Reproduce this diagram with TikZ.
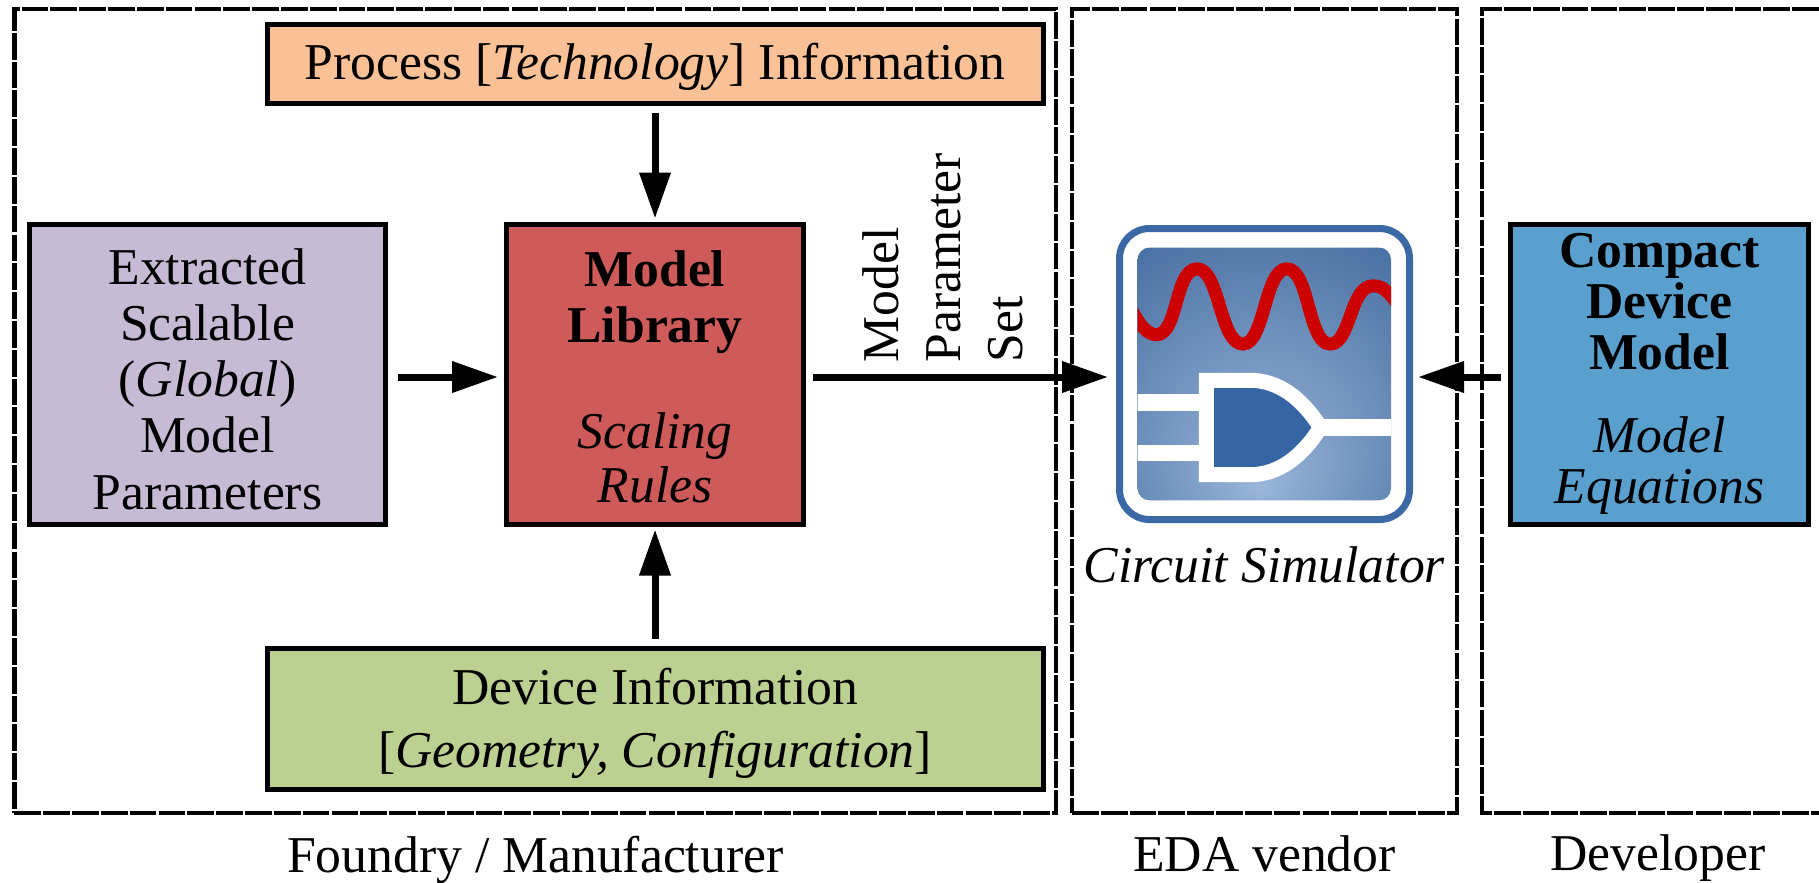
\documentclass[tikz,border=0pt]{standalone}
\usepackage{fontspec}
\setmainfont{Liberation Serif}
\usepackage{xcolor}
\usepackage{tikz}
\usetikzlibrary{arrows.meta,positioning}
\definecolor{procorange}{HTML}{FBC196}
\definecolor{extpurple}{HTML}{C6BAD5}
\definecolor{libred}{HTML}{CF5A5A}
\definecolor{devgreen}{HTML}{BCD092}
\definecolor{cmblue}{HTML}{5AA0CF}
\definecolor{iconblue}{HTML}{3A69A5}
\definecolor{gateblue}{HTML}{3565A5}
\definecolor{iconlight}{HTML}{9AB6DA}
\definecolor{icondark}{HTML}{3F689C}
\definecolor{wavered}{HTML}{CC0000}
\pgfdeclareradialshading{iconglow}{\pgfpoint{-1bp}{-22bp}}{color(0bp)=(iconlight); color(47bp)=(icondark); color(70bp)=(icondark)}

\begin{document}
\begin{tikzpicture}[font=\fontsize{14.7}{16}\selectfont]
        \tikzstyle{block} = [draw, line width=0.05cm, align=center, inner sep=0pt, text=black]
        \tikzstyle{framebox} = [draw, line width=0.045cm, dash pattern=on 7.6pt off 0.6pt]
        \tikzstyle{flow} = [-{Triangle[length=0.46cm,width=0.3cm]}, line width=0.07cm, shorten >=0.06cm, shorten <=0.07cm]
        \useasboundingbox (0,0) rectangle (18.19,8.82);

        \node[framebox, minimum width=10.415cm, minimum height=8.04cm] (foundry) at (5.3525,4.71) {};
        \node[framebox, minimum width=3.85cm, minimum height=8.04cm] (eda) at (12.645,4.71) {};
        \draw[framebox] (18.19,8.73) -- (14.82,8.73) -- (14.82,0.69) -- (18.19,0.69);
        \node[below = 0.08cm of foundry] (foundrycap) {Foundry / Manufacturer};
        \node[below = 0.08cm of eda] (edacap) {EDA vendor};
        \node (devcap) at (16.58,0.24) {Developer};

        \node[block, fill=libred, minimum width=2.97cm, minimum height=3cm] (library) at (6.55,5.08) {\rule{0pt}{12pt}\textbf{Model}\\\textbf{Library}\\[14pt]\textit{Scaling}\\[-0.5pt]\textit{Rules}};
        \node[block, fill=procorange, minimum width=7.76cm, minimum height=0.79cm, above = 1.16cm of library] (process) {\rule{0pt}{12pt}Process [\textit{Technology}] Information};
        \node[block, fill=extpurple, minimum width=3.56cm, minimum height=3cm, left = 1.16cm of library] (extracted) {\rule{0pt}{13pt}Extracted\\Scalable\\(\textit{Global})\\Model\\Parameters};
        \node[block, fill=devgreen, minimum width=7.76cm, minimum height=1.41cm, below = 1.19cm of library] (device) {\rule{0pt}{13pt}Device Information\\[2pt][\textit{Geometry, Configuration}]};
        \node[block, fill=cmblue, minimum width=2.98cm, minimum height=3cm, right = 7.02cm of library] (compact) {\textbf{Compact}\\[-1.5pt]\textbf{Device}\\[-1.5pt]\textbf{Model}\\[7.5pt]\textit{Model}\\[-1.5pt]\textit{Equations}};
        \node[draw=iconblue, fill=white, line width=0.07cm, rounded corners=0.3cm, minimum width=2.9cm, minimum height=2.91cm] (sim) at (12.645,5.08) {};
        \node[below = 0.11cm of sim] (simcap) {\textit{Circuit Simulator}};
        \node[rotate=90, anchor=west, align=left, inner sep=0pt, font=\fontsize{14.7}{17.7}\selectfont] (paramset) at ([xshift=1.37cm,yshift=0.11cm]library.east) {Model\\Parameter\\Set};

        \begin{scope}[shift={(10.8,6.82)},x=0.003333cm,y=-0.003333cm]
        \clip[rounded corners=0.12cm] (173,143) rectangle (935,903);
        \shade[shading=iconglow] (173,143) rectangle (935,903);
        \draw[wavered, line width=0.13cm] (150,320) .. controls (175,370) and (200,405) .. (230,405) .. controls (295,405) and (285,207) .. (352,207) .. controls (420,207) and (420,433) .. (490,433) .. controls (555,433) and (555,207) .. (622,207) .. controls (690,207) and (685,433) .. (752,433) .. controls (815,433) and (810,258) .. (882,258) .. controls (915,258) and (935,285) .. (960,320);
        \draw[white, line width=0.167cm] (150,608) -- (380,608);
        \draw[white, line width=0.167cm] (150,761) -- (380,761);
        \draw[white, line width=0.167cm] (715,684) -- (960,684);
        \draw[white, fill=gateblue, line width=0.15cm] (380,542) -- (510,542) .. controls (600,542) and (670,600) .. (723,684) .. controls (670,768) and (600,826) .. (510,826) -- (380,826) -- cycle;
        \end{scope}

        \draw [flow, shorten >=0.03cm] (process) -- (library);
        \draw [flow, shorten <=0.1cm] ([yshift=-0.03cm]extracted.east) -- ([yshift=-0.03cm]library.west);
        \draw [flow, shorten >=0.03cm] (device) -- (library);
        \draw [flow, shorten >=0.08cm] ([yshift=-0.03cm]library.east) -- ([yshift=-0.03cm]sim.west);
        \draw [flow, shorten >=0.05cm] ([yshift=-0.03cm]compact.west) -- ([yshift=-0.03cm]sim.east);
        \end{tikzpicture}
\end{document}
